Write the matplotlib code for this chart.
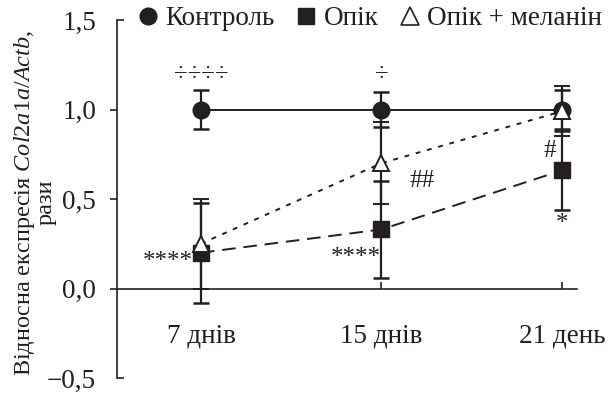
import matplotlib.pyplot as plt
import matplotlib.lines as mlines
from matplotlib.lines import Line2D

plt.rcParams['font.family'] = ['Liberation Serif', 'DejaVu Serif']
plt.rcParams['mathtext.fontset'] = 'custom'
plt.rcParams['mathtext.rm'] = 'Liberation Serif'
plt.rcParams['mathtext.it'] = 'Liberation Serif:italic'

INK = '#231f20'
FS = 19.5

# data
days = ['7 днів', '15 днів', '21 день']
control = [1.0, 1.0, 1.0]
control_err = [0.11, 0.10, 0.11]
burn = [0.20, 0.33, 0.66]
burn_err = [0.28, 0.27, 0.22]
burn_mel = [0.25, 0.70, 0.99]
burn_mel_err = [0.25, 0.23, 0.14]
yticks = [-0.5, 0.0, 0.5, 1.0, 1.5]
ytick_labels = ['\u22120,5', '0,0', '0,5', '1,0', '1,5']

x = list(range(len(days)))

fig = plt.figure(figsize=(6.11, 3.94), dpi=100)
ax = fig.add_axes([117 / 611, 16 / 394, 473 / 611, 358 / 394])
ax.set_xlim(-0.465, 2.155)
ax.set_ylim(-0.5, 1.5)

common = dict(color=INK, ecolor=INK, elinewidth=1.6, capsize=6, capthick=1.8, lw=1.4)
ax.errorbar(x, control, yerr=control_err, fmt='o', ls='-', ms=12,
            mfc=INK, mec=INK, zorder=3, **common)
ax.errorbar(x, burn, yerr=burn_err, fmt='s', ls=(0, (7, 4)), ms=11,
            mfc=INK, mec=INK, zorder=4, **common)
ax.errorbar(x, burn_mel, yerr=burn_mel_err, fmt='^', ls=(0, (2.5, 3.5)), ms=12,
            mfc='white', mec=INK, mew=1.4, zorder=5, **common)

# axes styling
for s in ['top', 'right']:
    ax.spines[s].set_visible(False)
ax.spines['left'].set_color(INK)
ax.spines['left'].set_linewidth(1.2)
ax.spines['bottom'].set_position(('data', 0))
ax.spines['bottom'].set_bounds(-0.465, 2.085)
ax.spines['bottom'].set_color(INK)
ax.spines['bottom'].set_linewidth(1.2)

ax.set_yticks(yticks)
ax.set_yticklabels(ytick_labels, fontsize=FS, color=INK)
ax.tick_params(axis='y', direction='out', length=5, width=1.2, pad=10, color=INK)
yt = ax.yaxis.get_major_ticks()
for i in (0, len(yt) - 1):
    yt[i].tick1line.set_marker(mlines.TICKRIGHT)

ax.set_xticks(x)
ax.set_xticklabels(days, fontsize=FS, color=INK)
ax.tick_params(axis='x', direction='in', length=5, width=1.2, pad=25, color=INK)

ax.set_ylabel('Відносна експресія $\\mathit{Col2a1a/Actb}$,\nрази', fontsize=17.5,
              color=INK, linespacing=0.95)
ax.yaxis.set_label_coords(-0.127, 0.49)

# significance marks
tk = dict(fontsize=18, color=INK, ha='center', va='center')
ax.text(0, 1.19, '÷÷÷÷', **tk)
ax.text(1, 1.19, '÷', **tk)
ax.text(-0.183, 0.15, '****', **tk)
ax.text(0.856, 0.17, '****', **tk)
ax.text(1.227, 0.60, '##', **tk)
ax.text(1.93, 0.77, '#', **tk)
ax.text(2.0, 0.36, '*', **tk)

handles = [
    Line2D([], [], marker='o', ls='none', color=INK, ms=12),
    Line2D([], [], marker='s', ls='none', color=INK, ms=11),
    Line2D([], [], marker='^', ls='none', mfc='white', mec=INK, mew=1.2, ms=13),
]
fig.legend(handles, ['Контроль', 'Опік', 'Опік + меланін'], loc='center',
           bbox_to_anchor=(0.6015, 0.952), ncol=3, frameon=False, fontsize=FS,
           handletextpad=0.1, columnspacing=0.6, handlelength=1.1,
           labelcolor=INK)

fig.savefig('out.png', dpi=100)
